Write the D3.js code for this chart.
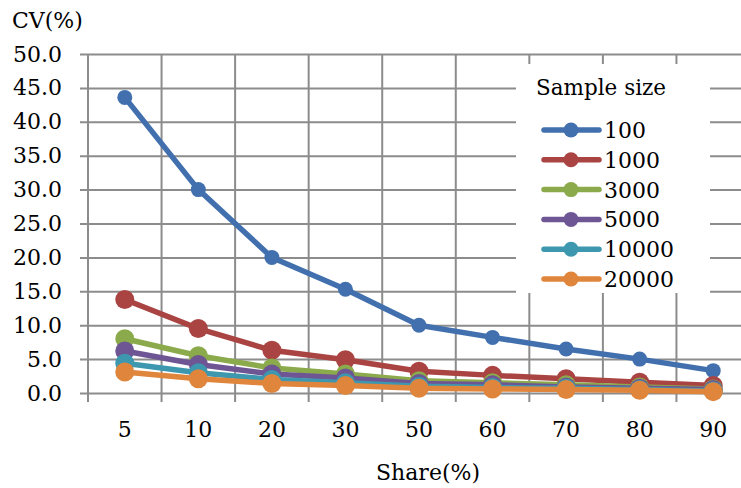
<!DOCTYPE html>
<html>
<head>
<meta charset="utf-8">
<script src="https://cdn.jsdelivr.net/npm/d3@7"></script>
<style>
  body { margin: 0; background: #fff; }
  svg text { font-family: "DejaVu Serif", serif; fill: #000; }
</style>
</head>
<body>
<svg id="chart" width="741" height="488"></svg>
<script>
const shares = ["5", "10", "20", "30", "50", "60", "70", "80", "90"];
const yTicks = [0, 5, 10, 15, 20, 25, 30, 35, 40, 45, 50];

const cv100 = [43.6, 30.0, 20.0, 15.3, 10.0, 8.2, 6.5, 5.0, 3.3];
const cv1000 = [13.8, 9.5, 6.3, 4.9, 3.2, 2.6, 2.1, 1.6, 1.1];
const cv3000 = [8.0, 5.5, 3.7, 2.8, 1.8, 1.5, 1.2, 0.9, 0.6];
const cv5000 = [6.2, 4.2, 2.8, 2.2, 1.4, 1.2, 0.9, 0.7, 0.5];
const cv10000 = [4.4, 3.0, 2.0, 1.5, 1.0, 0.8, 0.7, 0.5, 0.3];
const cv20000 = [3.1, 2.1, 1.4, 1.1, 0.7, 0.6, 0.5, 0.4, 0.2];

const seriesNames = ["100", "1000", "3000", "5000", "10000", "20000"];
const seriesValues = [cv100, cv1000, cv3000, cv5000, cv10000, cv20000];
const colors = ["#4270ae", "#a94442", "#8baa4b", "#6e5594", "#3d98af", "#e0853c"];

const svg = d3.select("#chart");
const plot = {left: 88, right: 750, top: 54, bottom: 393};

const x = d3.scaleBand()
    .domain(shares)
    .range([plot.left, plot.right]);

const y = d3.scaleLinear()
    .domain([0, 50])
    .range([plot.bottom, plot.top]);

// horizontal gridlines + y axis labels
const yAxis = svg.append("g")
    .attr("transform", `translate(${plot.left},0)`)
    .call(d3.axisLeft(y)
        .tickValues(yTicks)
        .tickFormat(d3.format(".1f"))
        .tickSize(-(plot.right - plot.left))
        .tickPadding(26));
yAxis.select(".domain").remove();
yAxis.selectAll("line")
    .attr("x1", -8)
    .attr("stroke", "#8c8c8c")
    .attr("stroke-width", 2);
yAxis.selectAll("text")
    .attr("font-size", 22);

// vertical gridlines at category boundaries
svg.append("g").selectAll("line")
    .data(shares)
    .join("line")
    .attr("x1", d => x(d))
    .attr("x2", d => x(d))
    .attr("y1", plot.top)
    .attr("y2", plot.bottom + 9)
    .attr("stroke", "#8c8c8c")
    .attr("stroke-width", 2);

// x tick labels
const xAxis = svg.append("g")
    .attr("transform", `translate(0,${plot.bottom})`)
    .call(d3.axisBottom(x).tickSize(0).tickPadding(28));
xAxis.select(".domain").remove();
xAxis.selectAll("text")
    .attr("font-size", 22);

// legend box
const legend = svg.append("g");
legend.append("rect")
    .attr("x", 516).attr("y", 64)
    .attr("width", 194).attr("height", 229)
    .attr("fill", "#fff");

// series
const line = d3.line()
    .x((d, i) => x(shares[i]) + x.bandwidth() / 2)
    .y(d => y(d));

seriesValues.forEach((vals, k) => {
    const g = svg.append("g");
    g.append("path")
        .datum(vals)
        .attr("d", line)
        .attr("fill", "none")
        .attr("stroke", colors[k])
        .attr("stroke-width", 5.5)
        .attr("stroke-linejoin", "round");
    g.selectAll("circle")
        .data(vals)
        .join("circle")
        .attr("cx", (d, i) => x(shares[i]) + x.bandwidth() / 2)
        .attr("cy", d => y(d))
        .attr("r", k === 0 ? 7.5 : 9.5)
        .attr("fill", colors[k]);
});

// legend contents
legend.raise();
legend.append("text")
    .attr("x", 536).attr("y", 95)
    .attr("font-size", 21.5)
    .text("Sample size");
const items = legend.selectAll(".item")
    .data(seriesNames)
    .join("g")
    .attr("class", "item")
    .attr("transform", (d, i) => `translate(0,${130 + i * 29.8})`);
items.append("line")
    .attr("x1", 544).attr("x2", 599)
    .attr("stroke", (d, i) => colors[i])
    .attr("stroke-width", 5.5)
    .attr("stroke-linecap", "round");
items.append("circle")
    .attr("cx", 571).attr("r", 7.5)
    .attr("fill", (d, i) => colors[i]);
items.append("text")
    .attr("x", 604).attr("y", 8)
    .attr("font-size", 22)
    .text(d => d);

// axis titles
svg.append("text")
    .attr("x", 12).attr("y", 28)
    .attr("font-size", 22)
    .text("CV(%)");
svg.append("text")
    .attr("x", 428).attr("y", 480)
    .attr("text-anchor", "middle")
    .attr("font-size", 22)
    .text("Share(%)");
</script>
</body>
</html>
